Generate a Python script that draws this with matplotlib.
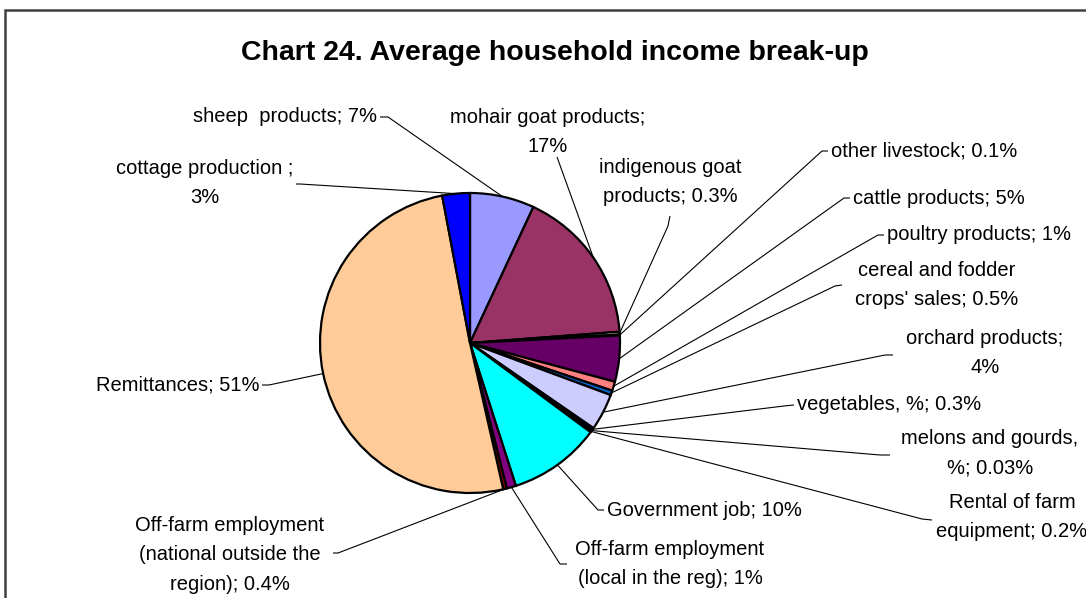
import matplotlib
matplotlib.use("Agg")
import matplotlib.pyplot as plt
from matplotlib.patches import Rectangle
import numpy as np

plt.rcParams['font.family'] = ['Liberation Sans', 'DejaVu Sans']

# ---- data ----
categories = [
    "sheep  products", "mohair goat products", "indigenous goat products",
    "other livestock", "cattle products", "poultry products",
    "cereal and fodder crops' sales", "orchard products", "vegetables, %",
    "melons and gourds, %", "Rental of farm equipment", "Government job",
    "Off-farm employment (local in the reg)",
    "Off-farm employment (national outside the region)",
    "Remittances", "cottage production",
]
values = [7, 17, 0.3, 0.1, 5, 1, 0.5, 4, 0.3, 0.03, 0.2, 10, 1, 0.4, 51, 3]
value_labels = ["7%", "17%", "0.3%", "0.1%", "5%", "1%", "0.5%", "4%", "0.3%",
                "0.03%", "0.2%", "10%", "1%", "0.4%", "51%", "3%"]
label_texts = [
    "sheep  products; 7%",
    "mohair goat products;\n17%",
    "indigenous goat\nproducts; 0.3%",
    "other livestock; 0.1%",
    "cattle products; 5%",
    "poultry products; 1%",
    "cereal and fodder\ncrops' sales; 0.5%",
    "orchard products;\n4%",
    "vegetables, %; 0.3%",
    "melons and gourds,\n%; 0.03%",
    "Rental of farm\nequipment; 0.2%",
    "Government job; 10%",
    "Off-farm employment\n(local in the reg); 1%",
    "Off-farm employment\n(national outside the\nregion); 0.4%",
    "Remittances; 51%",
    "cottage production ;\n3%",
]
colors = ["#9999FF", "#993366", "#FFFFCC", "#CCFFFF", "#660066", "#FF8080",
          "#0066CC", "#CCCCFF", "#000080", "#FF00FF", "#FFFF00", "#00FFFF",
          "#800080", "#800000", "#FFCC99", "#0000FF"]
title = "Chart 24. Average household income break-up"

# ---- layout (pixel coords, y from top) ----
W, H = 1086, 598
fig = plt.figure(figsize=(W / 100, H / 100), dpi=100)
ax = fig.add_axes([0, 0, 1, 1])
ax.set_xlim(0, W)
ax.set_ylim(0, H)
ax.axis("off")

def Y(y):
    return H - y

cx, cy, R = 470, 343, 150

wedges, _ = ax.pie(values, colors=colors, startangle=90, counterclock=False,
                   center=(cx, Y(cy)), radius=R, frame=False,
                   wedgeprops=dict(edgecolor="black", linewidth=1.6))
ax.set_xlim(0, W)
ax.set_ylim(0, H)

# label position: (text x, text y, ha, elbow start (x,y), elbow end (x,y))
layout = [
    (377, 117, "right", (380, 117), (388, 117)),
    (548, 132, "center", (557, 157), (557, 157)),
    (670, 182, "center", (670, 216), (668, 226)),
    (831, 151, "left", (828, 151), (822, 151)),
    (853, 198, "left", (850, 198), (844, 198)),
    (887, 235, "left", (884, 235), (878, 235)),
    (937, 285, "center", (842, 285), (835, 286)),
    (985, 353, "center", (893, 355), (885, 355)),
    (797, 405, "left", (794, 405), (784, 406)),
    (990, 453, "center", (890, 455), (880, 455)),
    (1012, 517, "center", (932, 520), (922, 519)),
    (607, 510, "left", (604, 510), (598, 510)),
    (670, 564, "center", (567, 564), (560, 564)),
    (230, 555, "center", (333, 553), (338, 553)),
    (259, 385, "right", (262, 385), (269, 385)),
    (205, 183, "center", (296, 184), (300, 184)),
]

fs = 14.5
for w, txt, (tx, ty, ha, p1, p2) in zip(wedges, label_texts, layout):
    ang = np.deg2rad((w.theta1 + w.theta2) / 2)
    ex = cx + R * np.cos(ang)
    ey = Y(cy) + R * np.sin(ang)
    ax.plot([p1[0], p2[0], ex], [Y(p1[1]), Y(p2[1]), ey], color="black",
            linewidth=0.8, solid_capstyle="butt", zorder=1)
    ax.text(tx, Y(ty), txt, ha=ha, va="center", fontsize=fs,
            multialignment="center", linespacing=1.7, color="black")

ax.text(555, Y(53), title, ha="center", va="center", fontsize=20.5,
        fontweight="bold")

# chart frame
fig.patches.append(Rectangle((5 / W, -0.1), 1.2, (H - 10) / H + 0.1,
                             transform=fig.transFigure, fill=False,
                             edgecolor="#404040", linewidth=1.8))

fig.savefig("out.png", dpi=100)
